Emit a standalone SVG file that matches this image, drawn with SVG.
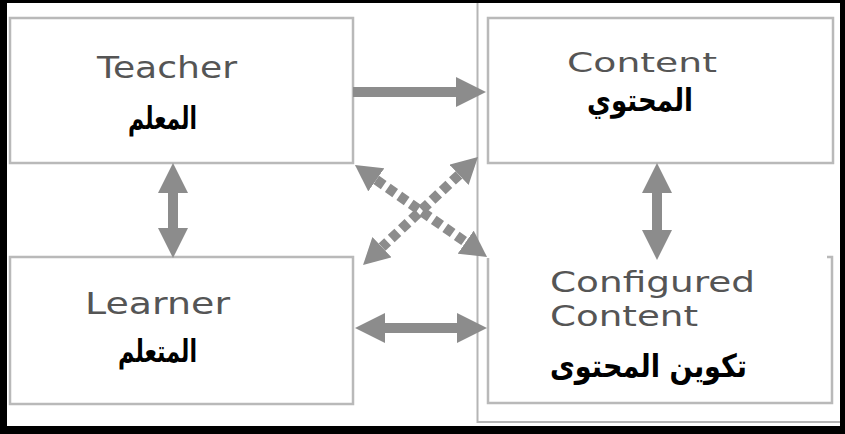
<svg xmlns="http://www.w3.org/2000/svg" width="845" height="434" viewBox="0 0 845 434">
<style>
.box{fill:#ffffff;stroke:#b9b9b9;stroke-width:2.5}
.en{font-family:"DejaVu Sans","Liberation Sans",sans-serif;fill:#555555;text-anchor:middle}
.ar{font-family:"DejaVu Sans","Noto Sans",sans-serif;font-weight:bold;fill:#000;text-anchor:middle}
.shaft{stroke:#8c8c8c;stroke-width:10;fill:none}
.dash{stroke-dasharray:9 5}
</style>
<defs>
<marker id="head" viewBox="0 -15 30 30" refX="0" refY="0" markerWidth="30" markerHeight="30" markerUnits="userSpaceOnUse" orient="auto-start-reverse">
<path d="M0,-15 L30,0 L0,15 Z" fill="#8c8c8c"/>
</marker>
<marker id="headS" viewBox="0 -14 26 28" refX="0" refY="0" markerWidth="26" markerHeight="28" markerUnits="userSpaceOnUse" orient="auto-start-reverse">
<path d="M0,-14 L26,0 L0,14 Z" fill="#8c8c8c"/>
</marker>
</defs>
<rect x="0" y="0" width="845" height="434" fill="#ffffff"/>
<rect x="477.5" y="-2" width="364" height="424" fill="none" stroke="#b5b5b5" stroke-width="2"/>

<g id="teacher">
<rect class="box" x="10" y="18" width="343" height="145"/>
<text class="en" x="167" y="78" font-size="30" textLength="140" lengthAdjust="spacingAndGlyphs">Teacher</text>
<text class="ar" x="162.5" y="129" font-size="31" textLength="69" lengthAdjust="spacingAndGlyphs">المعلم</text>
</g>
<g id="content">
<rect class="box" x="488" y="18" width="345" height="145"/>
<text class="en" x="642" y="72" font-size="27" textLength="150" lengthAdjust="spacingAndGlyphs">Content</text>
<text class="ar" x="640" y="111" font-size="31" textLength="106" lengthAdjust="spacingAndGlyphs">المحتوي</text>
</g>
<g id="learner">
<rect class="box" x="10" y="257" width="343" height="147"/>
<text class="en" x="157.5" y="314" font-size="30" textLength="145" lengthAdjust="spacingAndGlyphs">Learner</text>
<text class="ar" x="157.5" y="362" font-size="31" textLength="79" lengthAdjust="spacingAndGlyphs">المتعلم</text>
</g>
<g id="configured">
<path d="M827,257 L832,257 L832,403 L488,403 L488,258" fill="#ffffff" stroke="#b9b9b9" stroke-width="2.5"/>
<text class="en" x="652.5" y="292" font-size="28" textLength="205" lengthAdjust="spacingAndGlyphs">Configured</text>
<text class="en" x="624" y="326" font-size="28" textLength="148" lengthAdjust="spacingAndGlyphs">Content</text>
<text class="ar" x="648.5" y="377" font-size="32" textLength="197" lengthAdjust="spacingAndGlyphs">تكوين المحتوى</text>
</g>

<g id="connectors">
<line class="shaft" x1="353" y1="92" x2="456" y2="92" marker-end="url(#head)"/>
<line class="shaft" x1="173" y1="193" x2="173" y2="228" marker-start="url(#head)" marker-end="url(#head)"/>
<line class="shaft" x1="657" y1="193" x2="657" y2="230" marker-start="url(#head)" marker-end="url(#head)"/>
<line class="shaft" x1="385" y1="328" x2="457" y2="328" marker-start="url(#head)" marker-end="url(#head)"/>
<line class="shaft dash" x1="376.3" y1="179.9" x2="465.7" y2="242.1" marker-start="url(#headS)" marker-end="url(#headS)"/>
<line class="shaft dash" x1="459" y1="174.8" x2="382" y2="247.2" marker-start="url(#headS)" marker-end="url(#headS)"/>
</g>

<g id="frame" fill="#000000">
<rect x="0" y="0" width="845" height="3"/>
<rect x="0" y="0" width="7" height="434"/>
<rect x="0" y="426" width="845" height="8"/>
<rect x="840" y="0" width="5" height="434"/>
</g>
</svg>
